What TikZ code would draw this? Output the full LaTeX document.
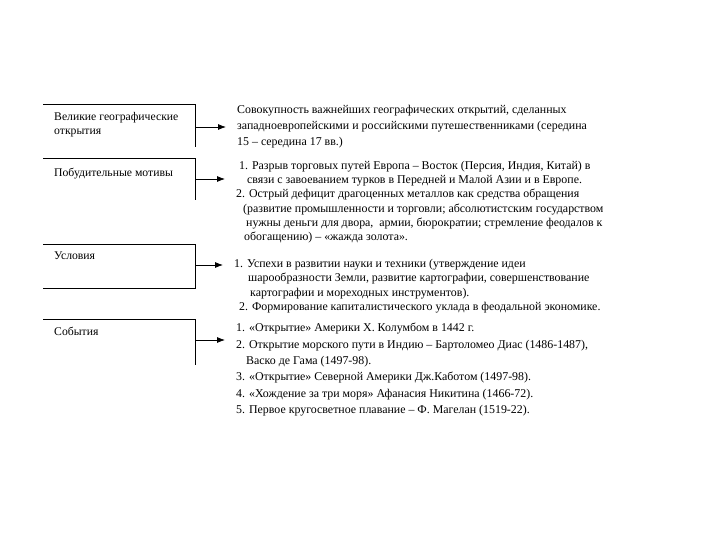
\documentclass[tikz,border=0pt]{standalone}
\usepackage{fontspec}
\setmainfont{Liberation Serif}
\usetikzlibrary{arrows.meta,positioning}

\begin{document}
\begin{tikzpicture}[x=1pt,y=-1pt,>={Latex[length=8pt,width=6pt]},
    lbl/.style={anchor=north west,inner sep=0pt,align=left,font=\fontsize{11.7}{14}\selectfont},
    txt/.style={anchor=north west,inner sep=0pt,align=left},
    frame/.style={line width=0.8pt},
    link/.style={->,line width=0.8pt,shorten >=11pt}]
    \useasboundingbox (0,0) rectangle (720,540);
    %
    % left blocks
    \draw[frame] (43,104) -| (195,147);
    \draw[frame] (43,158) -| (195,200);
    \draw[frame] (43,244) -| (195,288) -- (43,288);
    \draw[frame] (43,319) -| (195,365);
    \coordinate (c1) at (195,127);
    \coordinate (c2) at (195,179);
    \coordinate (c3) at (195,265);
    \coordinate (c4) at (195,340);
    %
    \node[lbl] (l1) at (54,112) {Великие географические\\открытия};
    \node[lbl] (l2) at (54,168) {Побудительные мотивы};
    \node[lbl] (l3) at (54,252) {Условия};
    \node[lbl] (l4) at (54,327) {События};
    %
    % right texts
    \node[txt,font=\fontsize{11.9}{16}\selectfont] (t1) at (237,105)
      {Совокупность важнейших географических открытий, сделанных\\
       западноевропейскими и российскими путешественниками (середина\\
       15 – середина 17 вв.)};
    \node[txt,font=\fontsize{11.9}{14.2}\selectfont] (t2) at (236,161)
      {\hspace*{3pt}1. Разрыв торговых путей Европа – Восток (Персия, Индия, Китай) в\\
       \hspace*{11pt}связи с завоеванием турков в Передней и Малой Азии и в Европе.\\
       2. Острый дефицит драгоценных металлов как средства обращения\\
       \hspace*{7pt}(развитие промышленности и торговли; абсолютистским государством\\
       \hspace*{10pt}нужны деньги для двора, \ армии, бюрократии; стремление феодалов к\\
       \hspace*{8pt}обогащению) – «жажда золота».};
    \node[txt,font=\fontsize{11.9}{14.4}\selectfont] (t3) at (234,259)
      {1. Успехи в развитии науки и техники (утверждение идеи\\
       \hspace*{14pt}шарообразности Земли, развитие картографии, совершенствование\\
       \hspace*{16pt}картографии и мореходных инструментов).\\
       \hspace*{5pt}2. Формирование капиталистического уклада в феодальной экономике.};
    \node[txt,font=\fontsize{11.9}{16.4}\selectfont] (t4) at (236,323)
      {1. «Открытие» Америки Х. Колумбом в 1442 г.\\
       2. Открытие морского пути в Индию – Бартоломео Диас (1486-1487),\\
       \hspace*{10pt}Васко де Гама (1497-98).\\
       3. «Открытие» Северной Америки Дж.Каботом (1497-98).\\
       4. «Хождение за три моря» Афанасия Никитина (1466-72).\\
       5. Первое кругосветное плавание – Ф. Магелан (1519-22).};
    %
    % arrows
    \draw[link] (c1) -- (t1.west |- c1);
    \draw[link] (c2) -- (t2.west |- c2);
    \draw[link] (c3) -- (t3.west |- c3);
    \draw[link] (c4) -- (t4.west |- c4);
\end{tikzpicture}
\end{document}
